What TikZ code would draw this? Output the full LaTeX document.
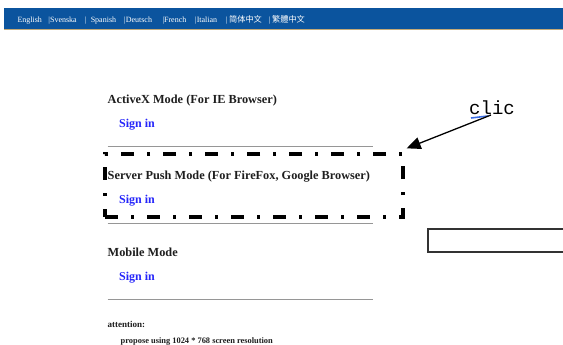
\documentclass[tikz,border=0pt]{standalone}
\usepackage{fontspec}
\setmainfont{Liberation Serif}
\newfontfamily\cjkscfont{Noto Sans CJK SC}
\newfontfamily\cjktcfont{Noto Sans CJK TC}
\newfontfamily\clicfont{Liberation Mono}
\usetikzlibrary{
  arrows.meta, % for the big arrow tip
  positioning, % for relative node positioning
}
\definecolor{bar-blue}{RGB}{11,84,158}
\definecolor{bar-gold}{RGB}{196,170,120}
\definecolor{link-blue}{RGB}{38,38,250}
\definecolor{rule-gray}{RGB}{150,150,150}
\definecolor{head-black}{RGB}{30,30,30}
\definecolor{mark-blue}{RGB}{60,110,230}

\begin{document}
\begin{tikzpicture}[x=1pt, y=-1pt,
    langitem/.style={anchor=base west, inner sep=0pt, text=white, font=\fontsize{8}{9}\selectfont},
    heading/.style={anchor=base west, inner sep=0pt, text=head-black, font=\fontsize{12.3}{14}\selectfont\bfseries},
    signin/.style={anchor=base west, inner sep=0pt, text=link-blue, font=\fontsize{12}{14}\selectfont\bfseries},
    note/.style={anchor=base west, inner sep=0pt, text=head-black, font=\fontsize{8.4}{10}\selectfont\bfseries},
    rule/.style={draw=rule-gray, line width=1.2pt},
    dashbox/.style={draw=black, line width=3.3pt, dash pattern=on 13pt off 13pt on 3pt off 13pt,
      minimum width=298pt, minimum height=63pt, inner sep=0pt},
  ]
    % page
    \fill[white] (0,0) rectangle (563,345);
    \useasboundingbox (0,0) rectangle (563,345);

    % language bar
    \fill[bar-blue] (4,8) rectangle (570,29.3);
    \fill[bar-gold] (4,29.3) rectangle (570,30.5);
    \node[langitem] (en) at (17.3,23) {English};
    \node[langitem] (sv) at (48.3,23) {|Svenska};
    \node[langitem] (es) at (85,23) {|\ \ Spanish};
    \node[langitem] (de) at (124,23) {|Deutsch};
    \node[langitem] (fr) at (162.3,23) {|French};
    \node[langitem] (it) at (195,23) {|Italian};
    \node[langitem] (sc) at (226,23) {|\,{\cjkscfont\fontsize{8.2}{9}\selectfont 简体中文}};
    \node[langitem] (tc) at (269,23) {|\,{\cjktcfont\fontsize{8.2}{9}\selectfont 繁體中文}};

    % login modes
    \node[heading] (activex) at (107.5,103.5) {ActiveX Mode (For IE Browser)};
    \node[signin] (signax) at (119,127.5) {Sign in};
    \draw[rule] (107.5,146.7) -- (373,146.7);

    \node[dashbox] (pushbox) at (254,185.5) {};
    \node[heading] (push) at (107.5,179.5) {Server Push Mode (For FireFox, Google Browser)};
    \node[signin] (signpush) at (119,203.5) {Sign in};
    \draw[rule] (107.5,223.3) -- (373,223.3);

    \node[heading] (mobile) at (107.5,256) {Mobile Mode};
    \node[signin] (signmob) at (119,280) {Sign in};
    \draw[rule] (107.5,299.3) -- (373,299.3);

    \node[note, font=\fontsize{9}{10}\selectfont\bfseries] (attention) at (107.5,327) {attention:};
    \node[note] (propose) at (120.5,343.5) {propose using 1024 * 768 screen resolution};

    % annotation
    \node[anchor=base west, inner sep=0pt, font=\clicfont\fontsize{19}{20}\selectfont] (clic) at (469,115) {clic};
    \draw[mark-blue, line width=1.6pt] (471,118) -- (488,116);
    \coordinate (clictail) at (491,115);
    \draw[line width=1.3pt, -{Triangle[length=14pt, width=12pt]}] (clictail) -- ([shift={(2,-4)}]pushbox.north east);
    \draw[draw=black!80, line width=1.8pt] (428,229) rectangle (570,252);
  \end{tikzpicture}
\end{document}
